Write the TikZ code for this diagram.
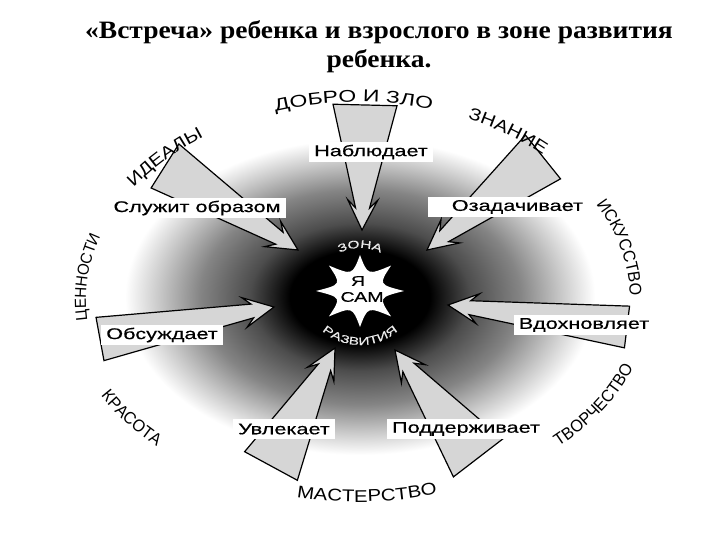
\documentclass[tikz,border=0pt]{standalone}
\usepackage{fontspec}
\setmainfont{Liberation Serif}
\newfontfamily\titlefont[FakeStretch=1.1]{Liberation Serif}
\newfontfamily\lblfont[FakeStretch=1.4, FakeBold=0.4]{Liberation Sans}
\newfontfamily\capwide[FakeStretch=1.35]{Liberation Sans}
\newfontfamily\capmid[FakeStretch=1.2]{Liberation Sans}
\newfontfamily\capnarrow[FakeStretch=0.95]{Liberation Sans}
\usepackage{tikz}
\usetikzlibrary{calc, decorations.text}
\definecolor{arrowgray}{gray}{0.84}
\definecolor{zonegray}{gray}{0.92}
\newcommand{\valwide}{\capwide\fontsize{17}{17}\selectfont}
\newcommand{\valmid}{\capmid\fontsize{17}{17}\selectfont}
\newcommand{\valnarrow}{\capnarrow\fontsize{17}{17}\selectfont}
\newcommand{\zonefont}{\lblfont\fontsize{11}{11}\selectfont}
\pgfdeclareradialshading{zoneshade}{\pgfpoint{0bp}{0bp}}{color(0bp)=(black); color(7bp)=(black); color(11bp)=(black!70); color(16bp)=(black!48); color(20bp)=(black!22); color(23.5bp)=(white); color(50bp)=(white)}

% block arrow: tail, tip, half width of the tail
\newcommand{\zonearrow}[3]{%
  \draw[zarrow] let \p1=($(#2)-(#1)$), \n1={atan2(\y1,\x1)}, \n2={veclen(\x1,\y1)} in
    ($(#1)+(\n1+90:#3)$) -- ($(#1)+(\n1:\n2-22)+(\n1+90:7)$) -- ($(#1)+(\n1:\n2-30)+(\n1+90:15)$)
    -- (#2) -- ($(#1)+(\n1:\n2-30)+(\n1-90:15)$) -- ($(#1)+(\n1:\n2-22)+(\n1-90:7)$)
    -- ($(#1)+(\n1-90:#3)$) -- cycle;}

\begin{document}
\begin{tikzpicture}[x=1pt, y=1pt,
  zarrow/.style={fill=arrowgray, draw=black, line width=1.2pt, line join=miter},
  actbox/.style={fill=white, inner xsep=5pt, inner ysep=3pt, minimum height=20pt, font=\lblfont\fontsize{15.5}{15.5}\selectfont},
  valtext/.style 2 args={decorate, decoration={text along path, text align=center, text={|#1|#2}}},
  zonetext/.style={decorate, decoration={text along path, text align=center, text color=zonegray, text={|\zonefont|#1}}}]
  \useasboundingbox (0,0) rectangle (720,540);

  % zone of development
  \coordinate (star) at (360,249);
  \coordinate (ring) at (358,240);
  \shade[shading=zoneshade] (360,243) ellipse [x radius=250, y radius=168];
  \fill[white] ($(star)+(0:44 and 36)$) \foreach \k in {1,...,8} {
    .. controls ($(star)+(\k*45-22.5:20 and 17)$) .. ($(star)+(\k*45:44 and 36)$) } -- cycle;
  \node[font=\lblfont\fontsize{14}{14}\selectfont] (ya) at (358,259) {Я};
  \node[font=\lblfont\fontsize{14}{14}\selectfont] (sam) at (362,243) {САМ};
  \path[zonetext={ЗОНА}] ($(star)+(150:44 and 43)$) arc[start angle=150, end angle=30, x radius=44, y radius=43];
  \path[zonetext={РАЗВИТИЯ}] ($(star)+(200:56 and 54)$) arc[start angle=200, end angle=340, x radius=56, y radius=54];

  % arrows
  \coordinate (dobroT) at (365,435);  \coordinate (dobroH) at (362,310);
  \coordinate (znanT) at (543,383);   \coordinate (znanH) at (427,290);
  \coordinate (iskT) at (627,213);    \coordinate (iskH) at (448,235);
  \coordinate (tvorT) at (478,82);    \coordinate (tvorH) at (395,190);
  \coordinate (masT) at (271,74);     \coordinate (masH) at (335,192);
  \coordinate (cennT) at (100,201);   \coordinate (cennH) at (274,233);
  \coordinate (idealT) at (165,374);  \coordinate (idealH) at (298,290);
  \zonearrow{dobroT}{dobroH}{32}
  \zonearrow{znanT}{znanH}{28}
  \zonearrow{iskT}{iskH}{21}
  \zonearrow{tvorT}{tvorH}{31}
  \zonearrow{masT}{masH}{30}
  \zonearrow{cennT}{cennH}{22}
  \zonearrow{idealT}{idealH}{26}

  % what the adult does
  \node[actbox] (nabl) at (371,388) {Наблюдает};
  \node[actbox] (sluzh) at (197,332) {Служит образом};
  \node[actbox, text width=150pt, align=right] (ozad) at (508,333) {Озадачивает};
  \node[actbox] (obsu) at (162,205) {Обсуждает};
  \node[actbox] (vdoh) at (584,215) {Вдохновляет};
  \node[actbox] (uvle) at (284,111) {Увлекает};
  \node[actbox] (podd) at (466,111) {Поддерживает};

  % values round the zone
  \path[valtext={\valwide}{ДОБРО И ЗЛО}] ($(ring)+(121:272 and 198)$) arc[start angle=121, end angle=61, x radius=272, y radius=198];
  \path[valtext={\valmid}{ЗНАНИЕ}] ($(ring)+(85:272 and 198)$) arc[start angle=85, end angle=25, x radius=272, y radius=198];
  \path[valtext={\valnarrow}{ИСКУССТВО}] ($(ring)+(44:272 and 198)$) arc[start angle=44, end angle=-16, x radius=272, y radius=198];
  \path[valtext={\valmid}{ИДЕАЛЫ}] ($(ring)+(167:272 and 198)$) arc[start angle=167, end angle=107, x radius=272, y radius=198];
  \path[valtext={\capnarrow\fontsize{16}{16}\selectfont}{ЦЕННОСТИ}] ($(ring)+(204:272 and 198)$) arc[start angle=204, end angle=144, x radius=272, y radius=198];
  \path[valtext={\valnarrow}{ТВОРЧЕСТВО}] ($(ring)+(-61:292 and 202)$) arc[start angle=-61, end angle=-1, x radius=292, y radius=202];
  \path[valtext={\valmid}{МАСТЕРСТВО}] ($(ring)+(-118:282 and 202)$) arc[start angle=-118, end angle=-58, x radius=282, y radius=202];
  \path[valtext={\valnarrow}{КРАСОТА}] ($(ring)+(185:292 and 202)$) arc[start angle=185, end angle=245, x radius=292, y radius=202];

  \node[align=center, font=\titlefont\bfseries\fontsize{25}{29}\selectfont] (title) at (379,493)
    {«Встреча» ребенка и взрослого в зоне развития\\ребенка.};
\end{tikzpicture}
\end{document}
